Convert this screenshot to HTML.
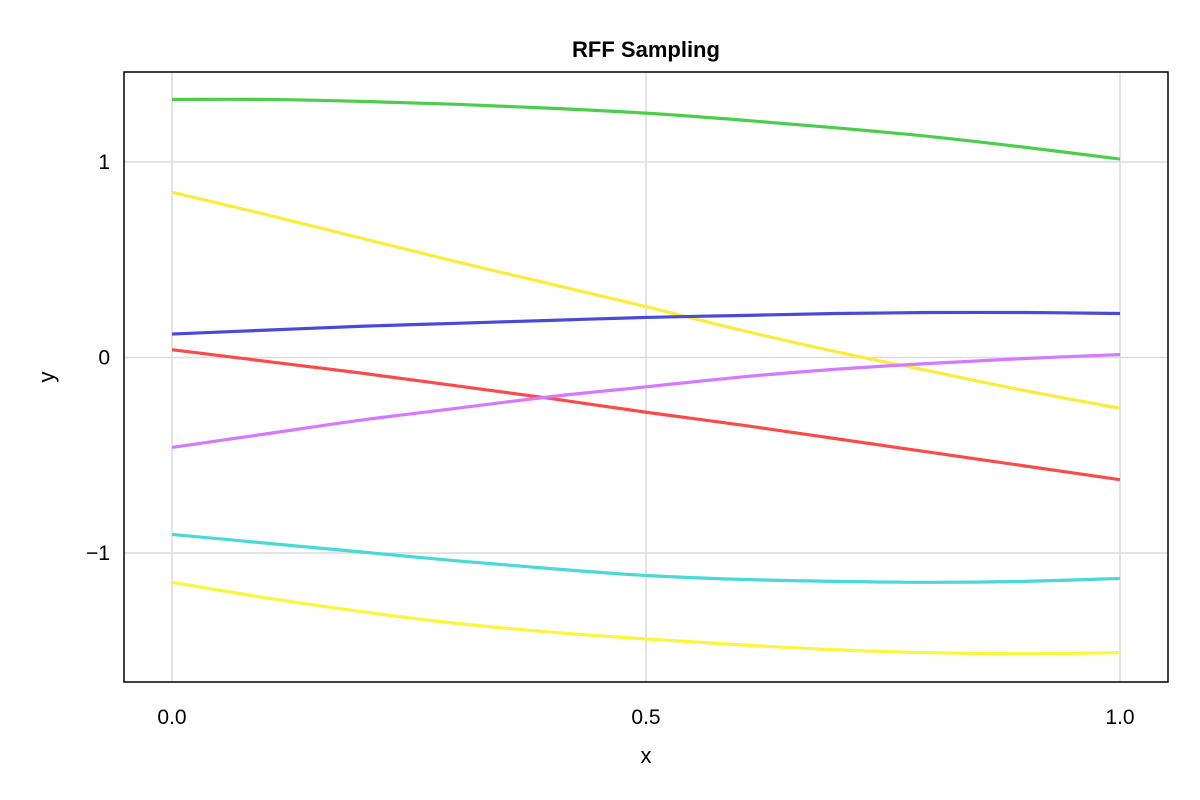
<!DOCTYPE html>
<html><head><meta charset="utf-8"><style>
body{margin:0;background:#fff;}
svg{display:block;font-family:"Liberation Sans",sans-serif;}
</style></head><body>
<svg id="chart" width="1200" height="800" viewBox="0 0 1200 800">
<rect x="0" y="0" width="1200" height="800" fill="#fff"/>
<text x="646" y="57" text-anchor="middle" font-size="22" font-weight="bold">RFF Sampling</text>
<g id="grid"></g>
<g id="series"></g>
<rect x="124" y="72" width="1044" height="610" fill="none" stroke="#000" stroke-width="1.5"/>
<g id="ticks"></g>
<text x="646" y="763" text-anchor="middle" font-size="22">x</text>
<text x="54" y="377" text-anchor="middle" font-size="22" transform="rotate(-90 54 377)">y</text>
</svg>
<script>
const xs = [0,0.1,0.2,0.3,0.4,0.5,0.6,0.7,0.8,0.9,1.0];
const greenVals = [1.32,1.32,1.31,1.295,1.275,1.25,1.215,1.175,1.13,1.075,1.015];
const yellowTopVals = [0.845,0.73,0.61,0.49,0.375,0.26,0.14,0.03,-0.07,-0.17,-0.26];
const blueVals = [0.12,0.14,0.16,0.175,0.19,0.205,0.215,0.225,0.23,0.23,0.225];
const redVals = [0.04,-0.02,-0.08,-0.145,-0.21,-0.28,-0.345,-0.415,-0.485,-0.555,-0.625];
const purpleVals = [-0.46,-0.39,-0.32,-0.26,-0.2,-0.15,-0.1,-0.06,-0.03,-0.005,0.015];
const cyanVals = [-0.905,-0.95,-0.995,-1.04,-1.08,-1.115,-1.135,-1.145,-1.15,-1.145,-1.13];
const yellowBottomVals = [-1.15,-1.23,-1.3,-1.36,-1.405,-1.44,-1.47,-1.495,-1.51,-1.515,-1.51];
const xTicks = [0,0.5,1];
const xTickLabels = ["0.0","0.5","1.0"];
const yTicks = [-1,0,1];
const yTickLabels = ["\u22121","0","1"];

const NS="http://www.w3.org/2000/svg";
const X=v=>172+v*948;
const Y=v=>357.5-v*195.5;
const grid=document.getElementById('grid'), ticks=document.getElementById('ticks'), ser=document.getElementById('series');
function mk(tag,attrs,parent){const e=document.createElementNS(NS,tag);for(const k in attrs)e.setAttribute(k,attrs[k]);parent.appendChild(e);return e;}
xTicks.forEach((t,i)=>{
  const l=mk('line',{x1:X(t),x2:X(t),y1:72,y2:682,stroke:'#dcdcdc','stroke-width':1.5},grid);
  
  
  const tx=mk('text',{x:X(t),y:724,'text-anchor':'middle','font-size':21},ticks);
  tx.textContent=xTickLabels[i];
  
  
});
yTicks.forEach((t,i)=>{
  const l=mk('line',{x1:124,x2:1168,y1:Y(t),y2:Y(t),stroke:'#dcdcdc','stroke-width':1.5},grid);
  
  
  const tx=mk('text',{x:110,y:Y(t)+7,'text-anchor':'end','font-size':21},ticks);
  tx.textContent=yTickLabels[i];
  
  
});
function path(vals){
  const p=xs.map((x,i)=>[X(x),Y(vals[i])]);
  let d='M'+p[0][0]+','+p[0][1];
  for(let i=0;i<p.length-1;i++){
    const p0=p[Math.max(i-1,0)],p1=p[i],p2=p[i+1],p3=p[Math.min(i+2,p.length-1)];
    const c1=[p1[0]+(p2[0]-p0[0])/6,p1[1]+(p2[1]-p0[1])/6];
    const c2=[p2[0]-(p3[0]-p1[0])/6,p2[1]-(p3[1]-p1[1])/6];
    d+=' C'+c1+' '+c2+' '+p2;
  }
  return d;
}
const series=[
  [greenVals,'#4cce4c','series-green'],
  [yellowTopVals,'#fbec3c','series-yellow-top'],
  [blueVals,'#4a4ad8','series-blue'],
  [redVals,'#fb4a4a','series-red'],
  [purpleVals,'#d57aff','series-purple'],
  [cyanVals,'#4ad8d8','series-cyan'],
  [yellowBottomVals,'#fbf53c','series-yellow-bottom']
];
series.forEach(s=>{
  const e=mk('path',{d:path(s[0]),fill:'none',stroke:s[1],'stroke-width':3.2},ser);
  
  
});
</script>
</body></html>
